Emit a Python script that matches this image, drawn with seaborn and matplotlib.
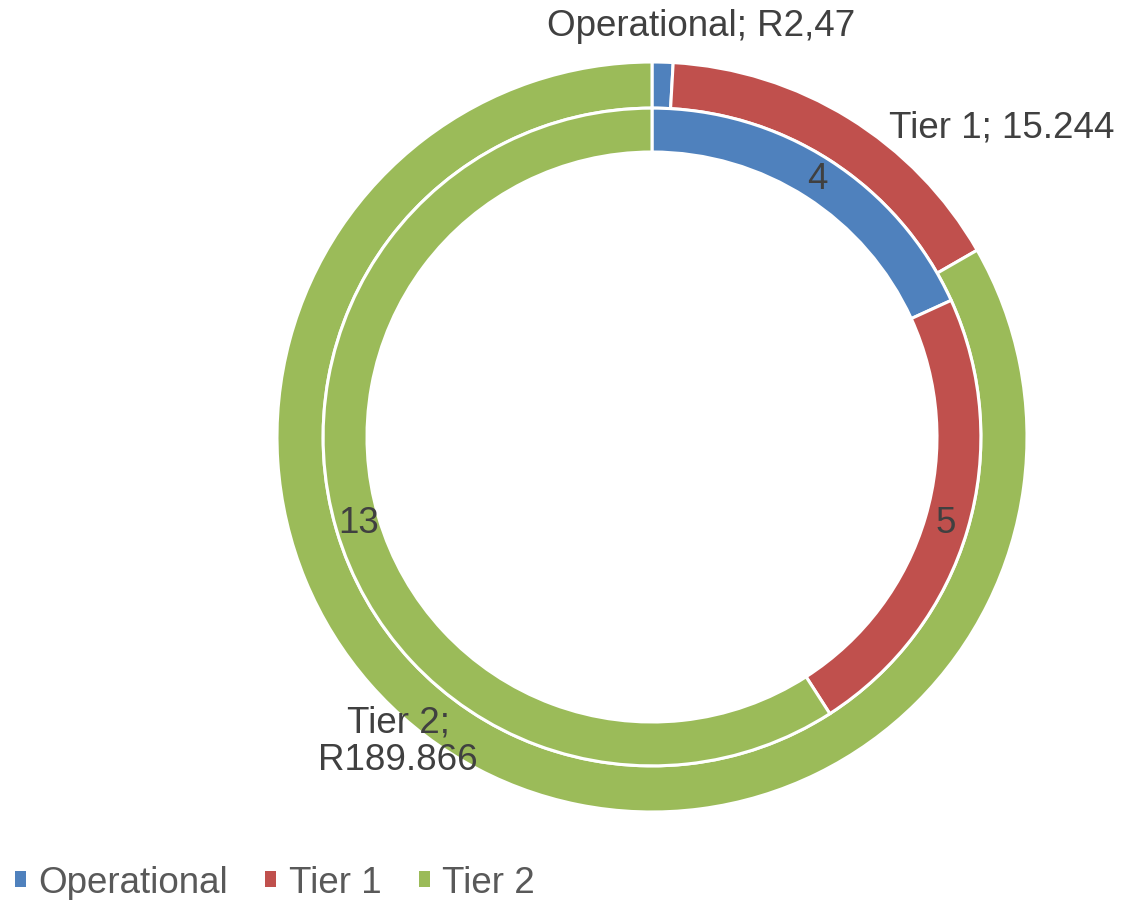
import matplotlib.pyplot as plt
import seaborn as sns
from matplotlib.patches import Patch
import numpy as np

sns.set_theme(style="white")
plt.rcParams["font.family"] = ["Liberation Sans", "DejaVu Sans"]

categories = ["Operational", "Tier 1", "Tier 2"]
# outer ring: share of the circle as drawn (percent), labels as printed
outer_share = [0.9, 15.8, 83.3]
outer_labels = ["Operational; R2,47", "Tier 1; 15.244", "Tier 2;\nR189.866"]
# inner ring counts
inner_vals = [4, 5, 13]

colors = ["#4F81BD", "#C0504D", "#9BBB59"]
txt_col = "#404040"

W, H = 1122, 900
R = 375.0
cx, cy = 652, 437

fig = plt.figure(figsize=(W / 100, H / 100), dpi=100)
ax = fig.add_axes([0, 0, 1, 1])

wp = dict(edgecolor="white", linewidth=2.2)
outer_w, _ = ax.pie(outer_share, radius=1.0, colors=colors, startangle=90,
                    counterclock=False, wedgeprops=dict(width=0.123, **wp))
inner_w, _ = ax.pie(inner_vals, radius=0.877, colors=colors, startangle=90,
                    counterclock=False, wedgeprops=dict(width=0.117, **wp))

# inner ring value labels at mid-angle of each wedge
for w, v in zip(inner_w, inner_vals):
    ang = np.deg2rad((w.theta1 + w.theta2) / 2)
    r = 0.815
    ax.text(r * np.cos(ang), r * np.sin(ang), str(v), ha="center", va="center",
            fontsize=26.5, color=txt_col)

# outer ring labels
def px(x, y):
    return (x - cx) / R, (cy - y) / R

for lab, (x, y) in zip(outer_labels, [(701, 27), (1002, 128), (398, 742)]):
    ax.text(*px(x, y), lab, ha="center", va="center", fontsize=26.5,
            color=txt_col, linespacing=1.1)

ax.set_xlim(-cx / R, (W - cx) / R)
ax.set_ylim(-(H - cy) / R, cy / R)
ax.set_aspect("equal")
ax.axis("off")

handles = [Patch(facecolor=c, edgecolor="none") for c in colors]
fig.legend(handles, categories, loc="lower left", bbox_to_anchor=(0.0, -0.017),
           ncol=3, frameon=False, fontsize=26.5, labelcolor="#595959",
           handlelength=0.3, handleheight=0.3, handletextpad=0.35,
           columnspacing=1.0, borderaxespad=0.0)

fig.savefig("out.png", dpi=100)
